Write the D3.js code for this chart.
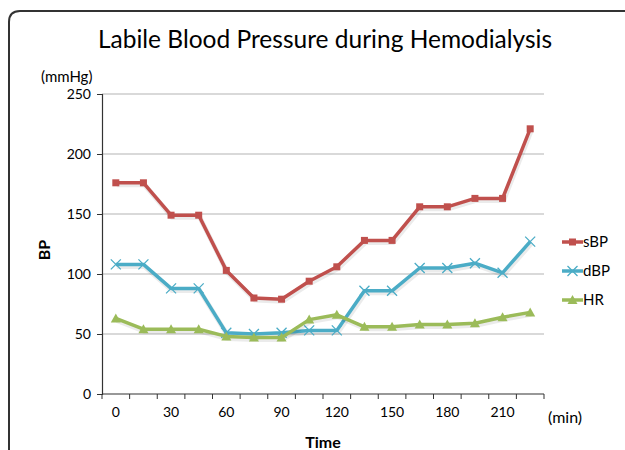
<!DOCTYPE html>
<html>
<head>
<meta charset="utf-8">
<script src="https://cdn.jsdelivr.net/npm/d3@7"></script>
<style>
  body { margin: 0; background: #fff; }
  text { font-family: Lato, "Open Sans", sans-serif; fill: #000; }
</style>
</head>
<body>
<div id="chart"></div>
<script>
// Data
const times = [0, 15, 30, 45, 60, 75, 90, 105, 120, 135, 150, 165, 180, 195, 210, 225];
const sBP = [176, 176, 149, 149, 103, 80, 79, 94, 106, 128, 128, 156, 156, 163, 163, 221];
const dBP = [108, 108, 88, 88, 51, 50, 51, 53, 53, 86, 86, 105, 105, 109, 101, 127];
const HR  = [63, 54, 54, 54, 48, 47, 47, 62, 66, 56, 56, 58, 58, 59, 64, 68];
const yTicks = [0, 50, 100, 150, 200, 250];

const seriesList = [
  { name: 'sBP', values: sBP, color: '#c0504d', marker: 'square' },
  { name: 'dBP', values: dBP, color: '#4bacc6', marker: 'cross' },
  { name: 'HR',  values: HR,  color: '#9bbb59', marker: 'triangle' }
];

const width = 625, height = 450;
const margin = { left: 102, right: 81, top: 94, bottom: 56 };

const svg = d3.select('#chart').append('svg')
  .attr('width', width)
  .attr('height', height);

// Outer chart frame (rounded corner top-left, runs off right and bottom)
svg.append('path')
  .attr('d', 'M9,460 L9,22 Q9,11 20,11 L640,11')
  .attr('fill', 'none')
  .attr('stroke', '#333')
  .attr('stroke-width', 2);

// Title
svg.append('text')
  .attr('x', 325).attr('y', 48)
  .attr('text-anchor', 'middle')
  .style('font-size', '24.5px')
  .text('Labile Blood Pressure during Hemodialysis');

// Scales
const x = d3.scaleBand()
  .domain(times)
  .range([margin.left, width - margin.right]);

const y = d3.scaleLinear()
  .domain([0, 250])
  .range([height - margin.bottom, margin.top]);

// Gridlines
svg.append('g')
  .selectAll('line')
  .data(yTicks.filter(d => d > 0))
  .enter().append('line')
  .attr('x1', margin.left).attr('x2', width - margin.right)
  .attr('y1', d => y(d)).attr('y2', d => y(d))
  .attr('stroke', '#b3b3b3')
  .attr('stroke-width', 1);

// Y axis
const yAxis = svg.append('g')
  .attr('transform', `translate(${margin.left},0)`)
  .call(d3.axisLeft(y).tickValues(yTicks).tickSize(5).tickPadding(6));
yAxis.select('.domain').attr('stroke', '#333').attr('stroke-width', 1.2);
yAxis.selectAll('.tick line').attr('stroke', '#333');
yAxis.selectAll('text').style('font-size', '14px').style('font-family', 'Lato, sans-serif');

// X axis: ticks at category boundaries, labels every other category
const xAxisG = svg.append('g')
  .attr('transform', `translate(0,${height - margin.bottom})`);
xAxisG.append('line')
  .attr('x1', margin.left).attr('x2', width - margin.right)
  .attr('stroke', '#333').attr('stroke-width', 1.2);
const boundaries = times.map(t => x(t)).concat([x(times[times.length - 1]) + x.bandwidth()]);
xAxisG.selectAll('.bt')
  .data(boundaries)
  .enter().append('line')
  .attr('class', 'bt')
  .attr('x1', d => d).attr('x2', d => d)
  .attr('y1', 0).attr('y2', 5)
  .attr('stroke', '#333');
xAxisG.selectAll('.lbl')
  .data(times.filter((t, i) => i % 2 === 0))
  .enter().append('text')
  .attr('class', 'lbl')
  .attr('x', d => x(d) + x.bandwidth() / 2)
  .attr('y', 23)
  .attr('text-anchor', 'middle')
  .style('font-size', '14px')
  .text(d => d);

// Axis titles and units
svg.append('text')
  .attr('x', 548).attr('y', 423)
  .style('font-size', '16px')
  .text('(min)');
svg.append('text')
  .attr('x', 323).attr('y', 448)
  .attr('text-anchor', 'middle')
  .style('font-size', '16px').style('font-weight', 'bold')
  .text('Time');
svg.append('text')
  .attr('x', 41).attr('y', 82)
  .style('font-size', '15px')
  .text('(mmHg)');
svg.append('text')
  .attr('transform', 'translate(50,250) rotate(-90)')
  .attr('text-anchor', 'middle')
  .style('font-size', '16px').style('font-weight', 'bold')
  .text('BP');

// Lines
const line = d3.line()
  .x((d, i) => x(times[i]) + x.bandwidth() / 2)
  .y(d => y(d));

function drawMarker(g, type, color, cx, cy) {
  if (type === 'square') {
    g.append('rect')
      .attr('x', cx - 3.5).attr('y', cy - 3.5)
      .attr('width', 7).attr('height', 7)
      .attr('fill', color);
  } else if (type === 'cross') {
    g.append('path')
      .attr('d', `M${cx - 5},${cy - 5}L${cx + 5},${cy + 5}M${cx - 5},${cy + 5}L${cx + 5},${cy - 5}`)
      .attr('stroke', color).attr('stroke-width', 1.3).attr('fill', 'none');
  } else {
    g.append('path')
      .attr('d', `M${cx},${cy - 5}L${cx + 5},${cy + 4}L${cx - 5},${cy + 4}Z`)
      .attr('fill', color);
  }
}

seriesList.forEach(s => {
  const g = svg.append('g');
  // soft shadow
  g.append('path')
    .datum(s.values)
    .attr('d', line)
    .attr('fill', 'none')
    .attr('stroke', '#000')
    .attr('stroke-opacity', 0.08)
    .attr('stroke-width', 5)
    .attr('transform', 'translate(1,2)');
  g.append('path')
    .datum(s.values)
    .attr('d', line)
    .attr('fill', 'none')
    .attr('stroke', s.color)
    .attr('stroke-width', 3.5)
    .attr('stroke-linejoin', 'round');
  s.values.forEach((v, i) => drawMarker(g, s.marker, s.color, x(times[i]) + x.bandwidth() / 2, y(v)));
});

// Legend
const legend = svg.append('g');
seriesList.forEach((s, i) => {
  const ly = 242 + i * 29;
  legend.append('line')
    .attr('x1', 562).attr('x2', 583)
    .attr('y1', ly).attr('y2', ly)
    .attr('stroke', s.color).attr('stroke-width', 3.5);
  drawMarker(legend, s.marker, s.color, 572.5, ly);
  legend.append('text')
    .attr('x', 583).attr('y', ly + 5)
    .style('font-size', '15px')
    .text(s.name);
});
</script>
</body>
</html>
